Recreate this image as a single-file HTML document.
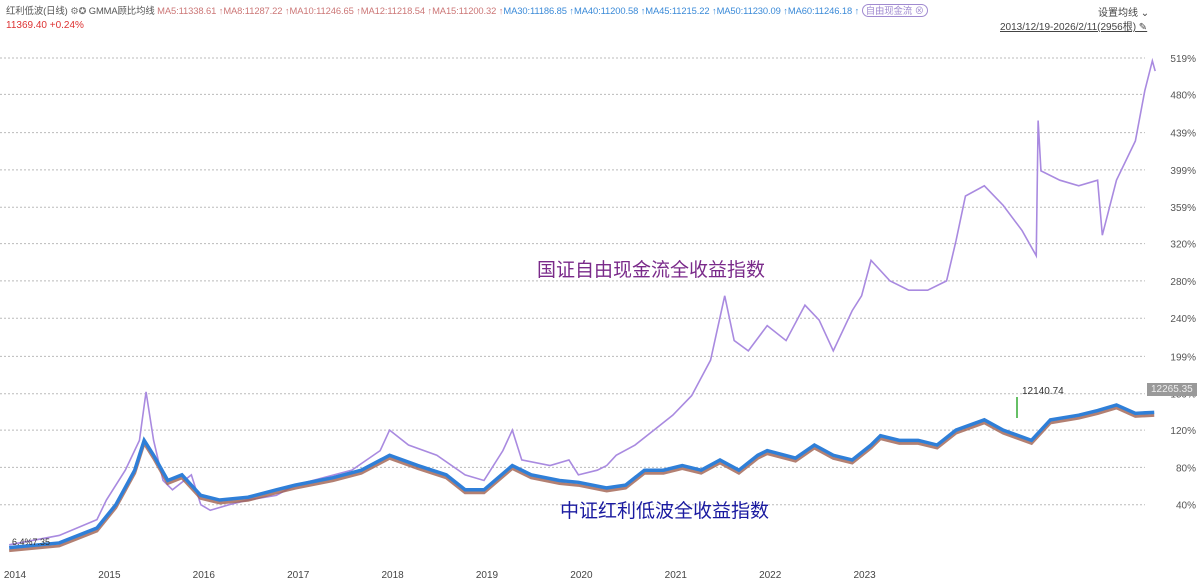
<!DOCTYPE html>
<html><head><meta charset="utf-8"><style>
body{margin:0;width:1200px;height:580px;background:#fff;font-family:"Liberation Sans","Noto Sans CJK SC",sans-serif;overflow:hidden;position:relative}
.t{position:absolute;white-space:nowrap}
</style></head><body>
<div class="t" style="left:6px;top:3px;font-size:9.4px;letter-spacing:-0.1px;color:#555">红利低波(日线) <span style="color:#777">⚙✪</span> GMMA顾比均线 <span style="color:#c77">MA5:11338.61 ↑MA8:11287.22 ↑MA10:11246.65 ↑MA12:11218.54 ↑MA15:11200.32 ↑</span><span style="color:#3a8ad8">MA30:11186.85 ↑MA40:11200.58 ↑MA45:11215.22 ↑MA50:11230.09 ↑MA60:11246.18 ↑</span> <span style="border:1px solid #a08ad0;border-radius:8px;color:#a08ad0;padding:0 3px">自由现金流 ⊗</span></div>
<div class="t" style="left:6px;top:20px;font-size:10px;color:#d33">11369.40 +0.24%</div>
<div class="t" style="left:1098px;top:4px;font-size:10px;color:#444">设置均线 ⌄</div>
<div class="t" style="left:1000px;top:18px;font-size:10px;color:#444;text-decoration:underline">2013/12/19-2026/2/11(2956根) ✎</div>
<svg id="c" width="1200" height="580" style="position:absolute;left:0;top:0"></svg>
<div class="t" style="left:537px;top:255px;font-size:19px;color:#7a2a8a">国证自由现金流全收益指数</div>
<div class="t" style="left:560px;top:496px;font-size:19px;color:#1a1aa0">中证红利低波全收益指数</div>
<div class="t" style="left:1022px;top:386px;font-size:10px;color:#333">12140.74</div>
<div class="t" style="left:1147px;top:383px;font-size:10px;color:#eee;background:#999;padding:1px 4px">12265.35</div>
<div class="t" style="left:12px;top:537px;font-size:9px;color:#333">6.4%7.35</div>
<script>
const yearTicks=[2014,2015,2016,2017,2018,2019,2020,2021,2022,2023];
const pctTicks=[40,80,120,159,199,240,280,320,359,399,439,480,519];
const fcfT=[2013.97,2014.5,2014.9,2015.0,2015.2,2015.35,2015.42,2015.5,2015.6,2015.7,2015.9,2016.0,2016.1,2016.3,2016.5,2016.8,2017.0,2017.3,2017.6,2017.9,2018.0,2018.2,2018.5,2018.8,2019.0,2019.2,2019.3,2019.4,2019.7,2019.9,2020.0,2020.2,2020.3,2020.4,2020.6,2020.8,2021.0,2021.2,2021.4,2021.55,2021.65,2021.8,2022.0,2022.2,2022.4,2022.55,2022.7,2022.9,2023.0,2023.1,2023.3,2023.5,2023.7,2023.9,2024.0,2024.1,2024.3,2024.5,2024.7,2024.85,2024.87,2024.9,2025.1,2025.3,2025.5,2025.55,2025.7,2025.9,2026.0,2026.08,2026.11];
const fcfV=[-3,7,24,45,77,109,161,109,66,56,72,40,34,40,45,50,61,69,77,98,120,104,93,72,66,98,120,88,82,88,72,77,82,93,104,120,136,157,195,264,216,205,232,216,254,238,205,248,264,302,280,270,270,280,323,371,382,361,334,307,452,398,388,382,388,329,388,430,484,516,505];
const lvT=[2013.97,2014.5,2014.9,2015.1,2015.3,2015.4,2015.5,2015.65,2015.8,2016.0,2016.2,2016.5,2016.8,2017.0,2017.4,2017.7,2018.0,2018.3,2018.6,2018.8,2019.0,2019.3,2019.5,2019.8,2020.0,2020.3,2020.5,2020.7,2020.9,2021.1,2021.3,2021.5,2021.7,2021.9,2022.0,2022.3,2022.5,2022.7,2022.9,2023.1,2023.2,2023.4,2023.6,2023.8,2024.0,2024.3,2024.5,2024.8,2025.0,2025.3,2025.5,2025.7,2025.9,2026.1];
const lvV=[-6,-1,15,40,77,109,93,66,72,50,45,48,56,61,69,77,93,82,72,56,56,82,72,66,64,58,61,77,77,82,77,88,77,93,98,90,104,93,88,104,114,109,109,104,120,131,120,109,131,136,141,147,138,139];
const X=t=>12+(t-2014)*94.4, Y=p=>542-p/1.0724;
const s=document.getElementById('c'),NS='http://www.w3.org/2000/svg';
function mk(tag,a){const e=document.createElementNS(NS,tag);for(const k in a)e.setAttribute(k,a[k]);s.appendChild(e);return e;}
pctTicks.forEach(p=>{const l=mk('line',{x1:0,x2:1145,y1:Y(p),y2:Y(p),stroke:'#bbb','stroke-dasharray':'2,2'});


const t=mk('text',{x:1196,y:Y(p)+4,'text-anchor':'end','font-size':10,fill:'#555','font-family':'Liberation Sans'});t.textContent=p+'%';

});
yearTicks.forEach(y=>{const t=mk('text',{x:X(y)+3,y:578,'text-anchor':'middle','font-size':10,fill:'#444','font-family':'Liberation Sans'});t.textContent=y;

});
const pts=(T,V,dx,dy)=>T.map((t,i)=>(X(t)+dx)+','+(Y(V[i])+dy)).join(' ');
const f=mk('polyline',{points:pts(fcfT,fcfV,0,0),fill:'none',stroke:'#a98ae0','stroke-width':1.6});


const b=mk('polyline',{points:pts(lvT,lvV,0,3),fill:'none',stroke:'#a0604f','stroke-width':3,opacity:.8});


const l=mk('polyline',{points:pts(lvT,lvV,0,0),fill:'none',stroke:'#2f7fd8','stroke-width':3.5});


const a=mk('line',{x1:1017,x2:1017,y1:397,y2:418,stroke:'#3a3',"stroke-width":1.5});


</script>
</body></html>
